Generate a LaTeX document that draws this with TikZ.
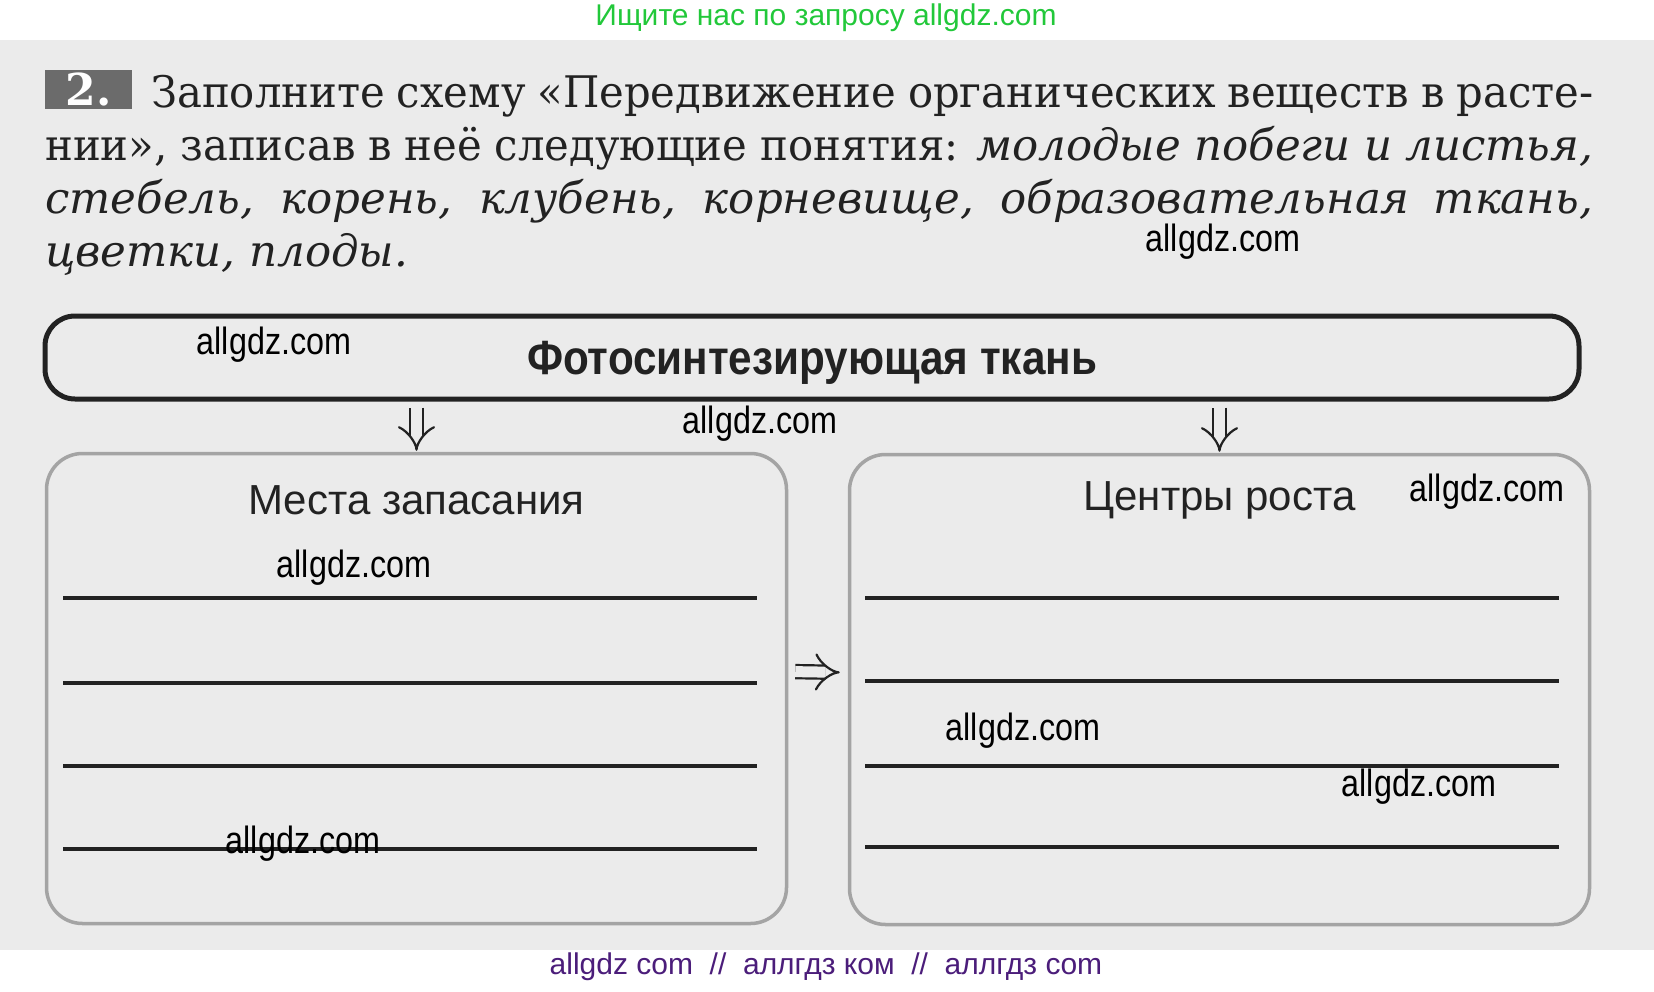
\documentclass[tikz,border=0pt]{standalone}
\usepackage{fontspec}
\setmainfont{DejaVu Serif}[UprightFeatures={FakeStretch=0.96}]
\newfontfamily\sansfont{Liberation Sans}
\newfontfamily\narrowfont[FakeStretch=0.85]{Liberation Sans}
\newfontfamily\headfont[FakeStretch=0.88]{Liberation Sans}
\usetikzlibrary{arrows.meta}
\usetikzlibrary{positioning}
\usetikzlibrary{calc}
\definecolor{pagegray}{HTML}{EBEBEB}
\definecolor{inkgray}{HTML}{222222}
\definecolor{framegray}{HTML}{A4A4A4}
\definecolor{sitegreen}{HTML}{22C83A}
\definecolor{sitepurple}{HTML}{4B1D7A}
\tikzset{%
  task/.style={anchor=base west, inner sep=0pt, text=inkgray,
    font=\fontsize{43.5}{52.7}\selectfont},% one line of the exercise
  number/.style={anchor=north west, fill=black!58, text=white, inner sep=0pt,
    minimum width=87pt, minimum height=39pt, font=\bfseries\fontsize{44}{44}\selectfont},% exercise number
  topic/.style={draw=inkgray, line width=5pt, rounded corners=30pt, minimum width=1534pt,
    minimum height=83pt, text depth=0pt, text=inkgray,
    font=\headfont\bfseries\fontsize{48}{48}\selectfont},% top frame
  place/.style={draw=framegray, line width=3.5pt, rounded corners=36pt, minimum width=740pt,
    minimum height=470pt},% lower frames
  caption/.style={text=inkgray, font=\sansfont\fontsize{42}{42}\selectfont},% heading in a frame
  answer/.style={draw=inkgray, line width=3.2pt},% line to write on
  imply/.style={double=pagegray, double distance=11pt, line width=2.2pt, draw=inkgray,
    -{Implies}},% double arrow
  wmark/.style={text=black, font=\narrowfont\fontsize{38}{38}\selectfont}% site watermark
}
\newcommand*{\fullline}{1548pt}% width of a justified line
\begin{document}
\begin{tikzpicture}[x=1pt, y=-1pt]
  \useasboundingbox (0,0) rectangle (1654,991);
  \fill[pagegray] (0,40) rectangle (1654,950);
  % Site lines above and below the page:
  \node[text=sitegreen, font=\sansfont\fontsize{30}{30}\selectfont] (top) at (826,18)
    {Ищите нас по запросу allgdz.com};
  \node[text=sitepurple, font=\sansfont\fontsize{30}{30}\selectfont] (bottom) at (826,967)
    {allgdz com \ // \ аллгдз ком \ // \ аллгдз com};
  % The exercise, line by line:
  \node[number] (num) at (45,70) {2.};
  \node[task] (line1) at (151,107)
    {\makebox[1442pt][s]{Заполните схему «Передвижение органических веществ в расте-}};
  \node[task] (line2) at (45,160)
    {\makebox[\fullline][s]{нии», записав в неё следующие понятия: \textit{молодые побеги и листья,}}};
  \node[task] (line3) at (45,213)
    {\makebox[\fullline][s]{\itshape стебель, корень, клубень, корневище, образовательная ткань,}};
  \node[task] (line4) at (45,266) {\textit{цветки, плоды.}};
  % Place the three frames:
  \node[topic] (photo) at (812,357.5) {Фотосинтезирующая ткань};
  \node[place] (store) at (416.5,688.5) {};
  \node[place] (grow) at (1219.5,689.5) {};
  \node[caption] (storecap) at ([yshift=-48pt]store.north) {Места запасания};
  \node[caption] (growcap) at ([yshift=-48pt]grow.north) {Центры роста};
  % Lines to write on:
  \foreach \y in {598,683,766,849}
    \draw[answer] (63,\y) -- (757,\y);
  \foreach \y in {598,681,766,847}
    \draw[answer] (865,\y) -- (1559,\y);
  % Connect by double arrows:
  \draw[imply, shorten <=6pt, shorten >=1pt] (photo.south -| store.north) -- (store.north);
  \draw[imply, shorten <=6pt, shorten >=1pt] (photo.south -| grow.north) -- (grow.north);
  \draw[imply, shorten <=7pt, shorten >=8pt] ([yshift=17pt]store.east) -- ([yshift=17pt]grow.west);
  % Watermarks:
  \node[wmark] (w1) at (1223,242) {allgdz.com};
  \node[wmark] (w2) at (274,345) {allgdz.com};
  \node[wmark] (w3) at (760,424) {allgdz.com};
  \node[wmark] (w4) at (354,568) {allgdz.com};
  \node[wmark] (w5) at (303,844) {allgdz.com};
  \node[wmark] (w6) at (1023,731) {allgdz.com};
  \node[wmark] (w7) at (1487,492) {allgdz.com};
  \node[wmark] (w8) at (1419,787) {allgdz.com};
\end{tikzpicture}
\end{document}
